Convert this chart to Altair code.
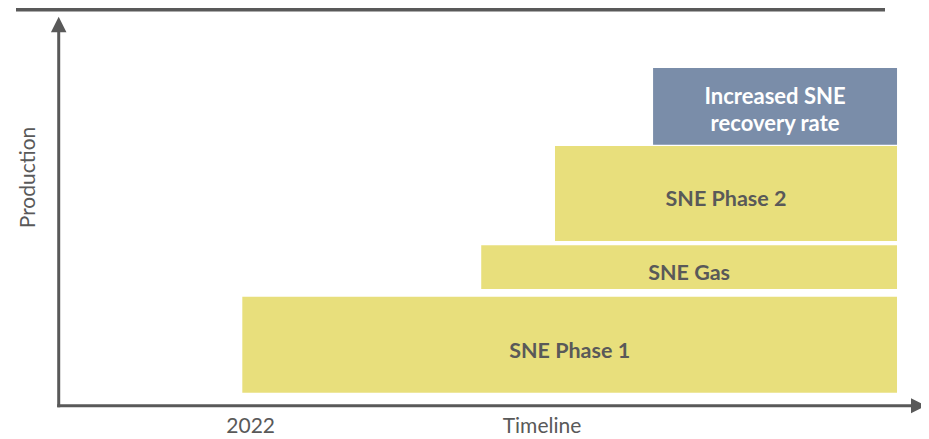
import altair as alt
import pandas as pd

# ---- data (timeline units on x, production units on y) ----
phase_names = ["SNE Phase 1", "SNE Gas", "SNE Phase 2", "Increased SNE\nrecovery rate"]
phase_kind = ["base", "base", "base", "upside"]
phase_start = [21.9, 50.4, 59.2, 70.9]
phase_end = [100.0, 100.0, 100.0, 100.0]
prod_low = [3.3, 30.0, 42.4, 67.1]
prod_high = [28.0, 41.3, 66.8, 86.9]

x_tick_labels = ["2022"]
x_tick_values = [22.9]
x_title = "Timeline"
y_title = "Production"

# axis extents (data units)
X_AXIS_END = 101.67
Y_AXIS_END = 96.14
X_ARROW = 102.56
Y_ARROW = 98.07

YELLOW = "#E8DF7C"
BLUE = "#7A8DA9"
GREY = "#595959"
FONT = "Lato"

df = pd.DataFrame({
    "name": phase_names,
    "kind": phase_kind,
    "start": phase_start,
    "end": phase_end,
    "low": prod_low,
    "high": prod_high,
})

XS = alt.Scale(domain=[-6.05, 102.86], nice=False, zero=False)
YS = alt.Scale(domain=[-8.57, 102.31], nice=False, zero=False)

bars = alt.Chart(df).mark_rect().encode(
    x=alt.X("start:Q", scale=XS, axis=None),
    x2="end:Q",
    y=alt.Y("low:Q", scale=YS, axis=None),
    y2="high:Q",
    color=alt.Color("kind:N", scale=alt.Scale(domain=["base", "upside"], range=[YELLOW, BLUE]), legend=None),
)

base_labels = alt.Chart(df).transform_filter(alt.datum.kind == "base").transform_calculate(
    mx="(datum.start + datum.end) / 2", my="(datum.low + datum.high) / 2"
).mark_text(font=FONT, fontSize=21.5, fontWeight="bold", color=GREY, baseline="alphabetic", dy=13).encode(
    x=alt.X("mx:Q", scale=XS, axis=None),
    y=alt.Y("my:Q", scale=YS, axis=None),
    text="name:N",
)

upside_labels = alt.Chart(df).transform_filter(alt.datum.kind == "upside").transform_calculate(
    mx="(datum.start + datum.end) / 2", my="(datum.low + datum.high) / 2"
).mark_text(font=FONT, fontSize=22, fontWeight="bold", color="white", baseline="middle",
            lineBreak="\n", lineHeight=27, dy=-9).encode(
    x=alt.X("mx:Q", scale=XS, axis=None),
    y=alt.Y("my:Q", scale=YS, axis=None),
    text="name:N",
)

axes_df = pd.DataFrame({
    "x": [0.0, 0.0], "x2": [0.0, X_AXIS_END],
    "y": [0.0, 0.0], "y2": [Y_AXIS_END, 0.0],
})
axis_lines = alt.Chart(axes_df).mark_rule(color=GREY, strokeWidth=3, strokeCap="square").encode(
    x=alt.X("x:Q", scale=XS, axis=None), x2="x2:Q",
    y=alt.Y("y:Q", scale=YS, axis=None), y2="y2:Q",
)

up_arrow = alt.Chart(pd.DataFrame({"x": [0.0], "y": [Y_ARROW]})).mark_point(
    shape="M0,-1L1,1L-1,1Z", filled=True, size=240, color=GREY, opacity=1
).encode(x=alt.X("x:Q", scale=XS, axis=None), y=alt.Y("y:Q", scale=YS, axis=None))

right_arrow = alt.Chart(pd.DataFrame({"x": [X_ARROW], "y": [0.0]})).mark_point(
    shape="M-1,-1L1,0L-1,1Z", filled=True, size=225, color=GREY, opacity=1
).encode(x=alt.X("x:Q", scale=XS, axis=None), y=alt.Y("y:Q", scale=YS, axis=None))

tick_df = pd.DataFrame({"label": x_tick_labels + [x_title], "x": x_tick_values + [57.65], "y": [-7.1, -7.1]})
x_text = alt.Chart(tick_df).mark_text(font=FONT, fontSize=21, color=GREY, baseline="alphabetic").encode(
    x=alt.X("x:Q", scale=XS, axis=None), y=alt.Y("y:Q", scale=YS, axis=None), text="label:N"
)

y_text = alt.Chart(pd.DataFrame({"label": [y_title], "x": [-2.83], "y": [58.71]})).mark_text(
    font=FONT, fontSize=21, color=GREY, baseline="alphabetic", angle=270
).encode(x=alt.X("x:Q", scale=XS, axis=None), y=alt.Y("y:Q", scale=YS, axis=None), text="label:N")

top_line = alt.Chart(pd.DataFrame({"a": [0]})).mark_rule(color=GREY, strokeWidth=3.5).encode(
    x=alt.value(8), x2=alt.value(877), y=alt.value(1.8)
)

chart = alt.layer(
    bars, base_labels, upside_labels, axis_lines, up_arrow, right_arrow, x_text, y_text, top_line
).properties(
    width=913, height=431, padding=0,
    autosize=alt.AutoSizeParams(type="none"),
).configure_view(strokeWidth=0)

chart.save("out.html", embed_options={"renderer": "svg", "actions": False})
